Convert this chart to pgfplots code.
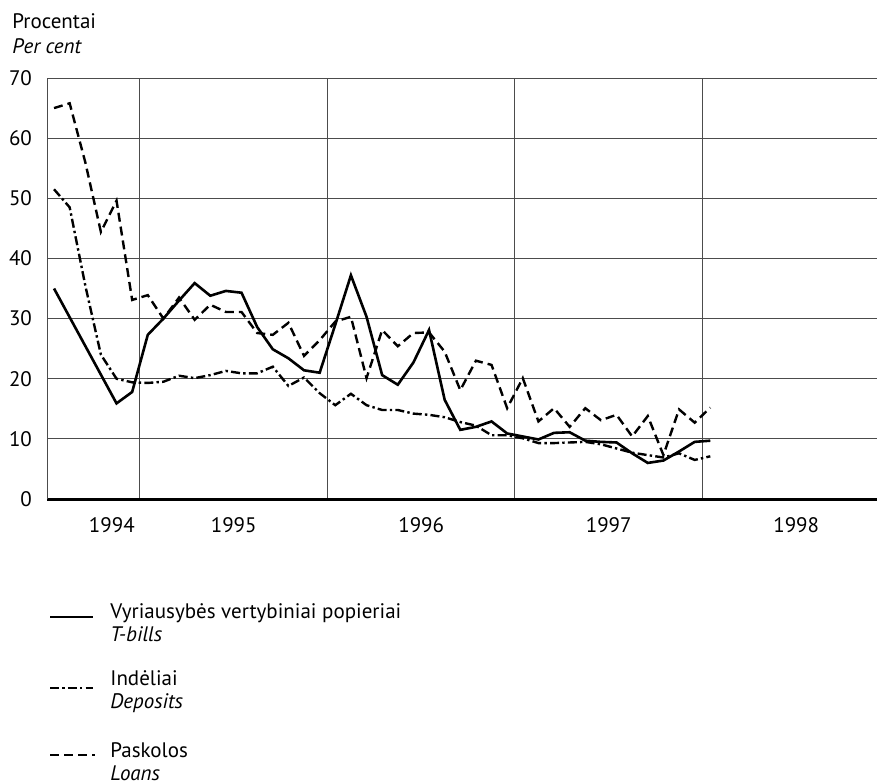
\documentclass[border=0pt]{standalone}
\usepackage{pgfplots}
\pgfplotsset{compat=1.18}
\usepackage{fontspec}
\setmainfont{PT Sans}
\newcommand{\f}{\fontsize{10.5}{12}\selectfont}
\begin{document}
\begin{tikzpicture}
\path[use as bounding box] (0pt,0pt) rectangle (438.5pt,-391.5pt);
\begin{axis}[
  at={(23.5pt,-249.5pt)}, anchor=south west,
  scale only axis, width=415pt, height=210.5pt,
  xmin=6.05, xmax=59.17, ymin=0, ymax=70,
  ytick={0,10,...,70},
  xtick={12,24,36,48}, xticklabels={},
  extra x ticks={10.2,18,30,42,54},
  extra x tick labels={1994,1995,1996,1997,1998},
  extra x tick style={grid=none},
  xmajorgrids, ymajorgrids,
  major grid style={black!70, line width=0.5pt},
  major tick length=0pt,
  axis x line*=bottom, axis y line*=left,
  x axis line style={-, line width=1.5pt},
  y axis line style={-, line width=0.4pt, black!70},
  /pgf/number format/assume math mode=true,
  tick label style={font=\f},
  yticklabel style={xshift=-4pt},
  xticklabel style={yshift=-5.5pt},
  clip=false,
]
\addplot[black, line width=1.3pt] coordinates {
(6.5,35.0)(10.5,15.9)(11.5,17.8)(12.5,27.3)(13.5,30.0)(14.5,33.0)(15.5,35.9)(16.5,33.8)(17.5,34.6)(18.5,34.3)(19.5,28.6)(20.5,24.9)(21.5,23.4)(22.5,21.4)(23.5,21.0)(24.5,29.0)(25.5,37.2)(26.5,30.3)(27.5,20.6)(28.5,19.0)(29.5,22.7)(30.5,28.1)(31.5,16.5)(32.5,11.5)(33.5,12.0)(34.5,12.9)(35.5,10.9)(36.5,10.4)(37.5,9.9)(38.5,11.0)(39.5,11.1)(40.5,9.7)(41.5,9.5)(42.5,9.4)(43.5,7.6)(44.5,6.0)(45.5,6.4)(46.5,7.9)(47.5,9.5)(48.5,9.7)
};
\addplot[black, line width=1.2pt, dash pattern=on 4.5pt off 1.6pt on 1.2pt off 1.6pt] coordinates {
(6.5,51.5)(7.5,48.5)(8.5,35.5)(9.5,24.0)(10.5,20.0)(11.5,19.4)(12.5,19.3)(13.5,19.5)(14.5,20.5)(15.5,20.1)(16.5,20.6)(17.5,21.3)(18.5,20.9)(19.5,20.9)(20.5,22.0)(21.5,18.8)(22.5,20.2)(23.5,17.6)(24.5,15.6)(25.5,17.5)(26.5,15.6)(27.5,14.8)(28.5,14.8)(29.5,14.2)(30.5,14.0)(31.5,13.6)(32.5,12.8)(33.5,12.2)(34.5,10.6)(35.5,10.6)(36.5,10.1)(37.5,9.3)(38.5,9.3)(39.5,9.4)(40.5,9.5)(41.5,9.1)(42.5,8.4)(43.5,7.7)(44.5,7.3)(45.5,6.9)(46.5,7.6)(47.5,6.5)(48.5,7.1)
};
\addplot[black, line width=1.2pt, dash pattern=on 4.5pt off 2.5pt] coordinates {
(6.5,65.0)(7.5,65.8)(8.5,56.0)(9.5,44.4)(10.5,49.6)(11.5,33.1)(12.5,33.9)(13.5,30.0)(14.5,33.5)(15.5,29.8)(16.5,32.3)(17.5,31.1)(18.5,31.1)(19.5,27.6)(20.5,27.3)(21.5,29.3)(22.5,23.8)(23.5,26.4)(24.5,29.5)(25.5,30.3)(26.5,20.1)(27.5,28.1)(28.5,25.4)(29.5,27.6)(30.5,27.7)(31.5,24.5)(32.5,18.1)(33.5,23.0)(34.5,22.3)(35.5,15.1)(36.5,20.1)(37.5,12.9)(38.5,15.1)(39.5,12.0)(40.5,15.1)(41.5,13.1)(42.5,14.0)(43.5,10.4)(44.5,13.8)(45.5,7.3)(46.5,14.9)(47.5,12.7)(48.5,15.2)
};
\end{axis}
\begin{scope}[x=0.5pt, y=-0.5pt, every node/.style={inner sep=0pt, font=\f}]
\node[anchor=base west] at (12,28) {Procentai};
\node[anchor=base west] at (12,53) {\itshape Per cent};
\draw[black, line width=1.3pt] (50,617) -- (93,617);
\draw[black, line width=1.2pt, dash pattern=on 4.5pt off 1.6pt on 1.2pt off 1.6pt] (50,688) -- (93,688);
\draw[black, line width=1.2pt, dash pattern=on 4.5pt off 2.5pt] (50,755) -- (95,755);
\node[anchor=base west] at (110,618) {Vyriausybės vertybiniai popieriai};
\node[anchor=base west] at (110,641) {\itshape T-bills};
\node[anchor=base west] at (110,685) {Indėliai};
\node[anchor=base west] at (110,708) {\itshape Deposits};
\node[anchor=base west] at (110,757) {Paskolos};
\node[anchor=base west] at (110,780) {\itshape Loans};
\end{scope}
\end{tikzpicture}
\end{document}
